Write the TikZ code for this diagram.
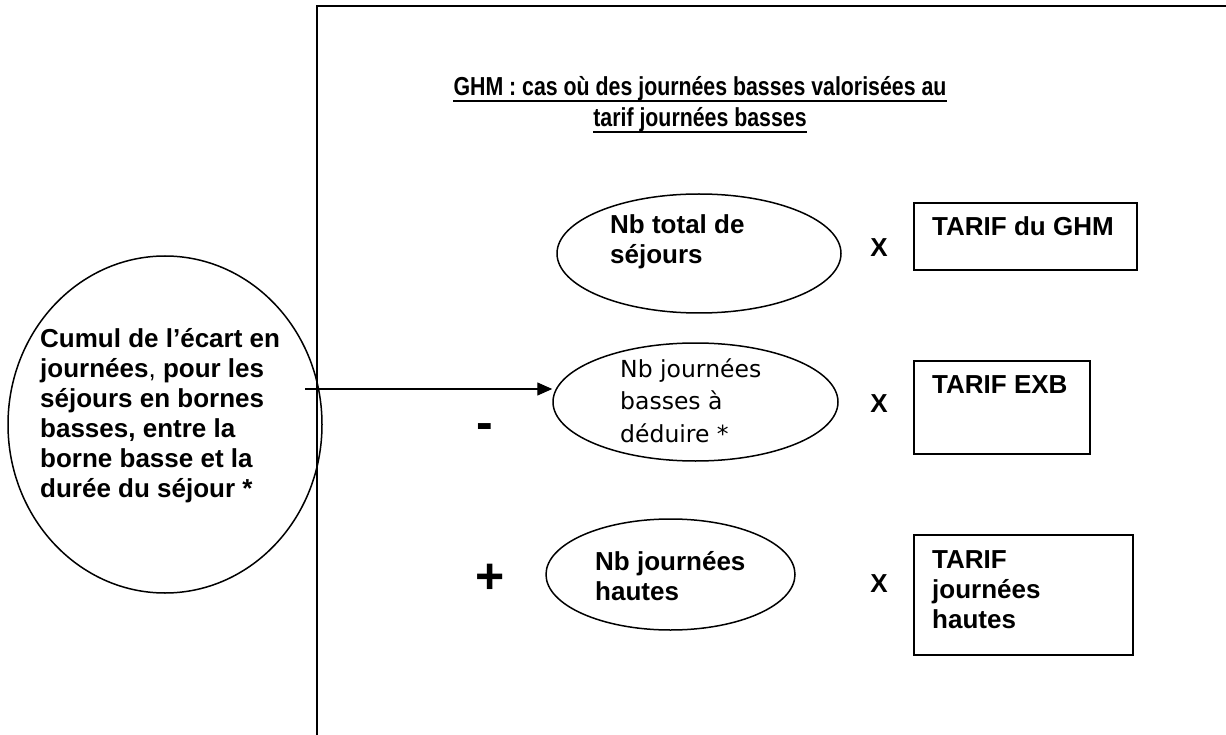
\documentclass[tikz,border=0pt]{standalone}
\usepackage{fontspec}
\setmainfont{Liberation Sans}
\newfontfamily\titlefont[FakeStretch=0.82]{Liberation Sans}
\newfontfamily\plainfont{DejaVu Sans}
\usetikzlibrary{shapes.geometric,arrows.meta}
\begin{document}
\begin{tikzpicture}[x=1pt,y=-1pt,
  txt/.style={inner sep=0pt, anchor=base west, align=left, font=\fontsize{26}{30}\selectfont\bfseries},
  plaintxt/.style={inner sep=0pt, anchor=base west, align=left, font=\plainfont\fontsize{23.5}{32.5}\selectfont},
  titletxt/.style={inner sep=0pt, anchor=base, font=\titlefont\fontsize{26}{30}\selectfont\bfseries},
  oval/.style={draw, line width=1.5pt, ellipse, inner sep=0pt},
  tbox/.style={draw, line width=2pt, rectangle, inner sep=0pt, anchor=north west},
  sign/.style={inner sep=0pt, font=\fontsize{50}{50}\selectfont\bfseries},
  arr/.style={line width=1.3pt, -{Triangle[length=15pt,width=13pt]}}
]
\useasboundingbox (0,0) rectangle (1226,735);
% frame
\draw[line width=2.5pt] (317,735) -- (317,6) -- (1226,6);
% title
\node[titletxt] (t1) at (700,96) {GHM : cas où des journées basses valorisées au};
\node[titletxt] (t2) at (700,127) {tarif journées basses};
\draw[line width=2pt] ([yshift=-5pt]t1.base west) -- ([yshift=-5pt]t1.base east);
\draw[line width=2pt] ([yshift=-5pt]t2.base west) -- ([yshift=-5pt]t2.base east);
% big circle (text anchored at the baseline of its last line)
\node[oval, minimum width=314pt, minimum height=337pt] (c0) at (165,424.5) {};
\node[txt] (c0t) at (40,497) {Cumul de l’écart en\\journées{\mdseries,} pour les\\séjours en bornes\\basses, entre la\\borne basse et la\\durée du séjour *};
% ellipses
\node[oval, minimum width=284pt, minimum height=119pt] (e1) at (699,253.5) {};
\node[txt] (e1t) at (610,264) {Nb total de\\séjours};
\node[oval, minimum width=285pt, minimum height=118pt] (e2) at (695.5,402) {};
\node[plaintxt] (e2t) at (620,442) {Nb journées\\basses à\\déduire *};
\node[oval, minimum width=249pt, minimum height=111pt] (e3) at (670.5,574.5) {};
\node[txt] (e3t) at (595,600) {Nb journées\\hautes};
% signs
\node[sign] (minus) at (485,432) {-};
\node[sign] (plus) at (490,579) {+};
\node[txt, anchor=base] (x1) at (879,257) {X};
\node[txt, anchor=base] (x2) at (879,412) {X};
\node[txt, anchor=base] (x3) at (879,592) {X};
% boxes
\node[tbox, minimum width=223pt, minimum height=67pt] (b1) at (913,202) {};
\node[txt] (b1t) at (932,236) {TARIF du GHM};
\node[tbox, minimum width=176pt, minimum height=93pt] (b2) at (913,360) {};
\node[txt] (b2t) at (932,393) {TARIF EXB};
\node[tbox, minimum width=219pt, minimum height=120pt] (b3) at (913,534) {};
\node[txt] (b3t) at (932,628) {TARIF\\journées\\hautes};
% arrow
\coordinate (a0) at (305,389);
\draw[arr] (a0) -- (e2.west |- a0);
\end{tikzpicture}
\end{document}
